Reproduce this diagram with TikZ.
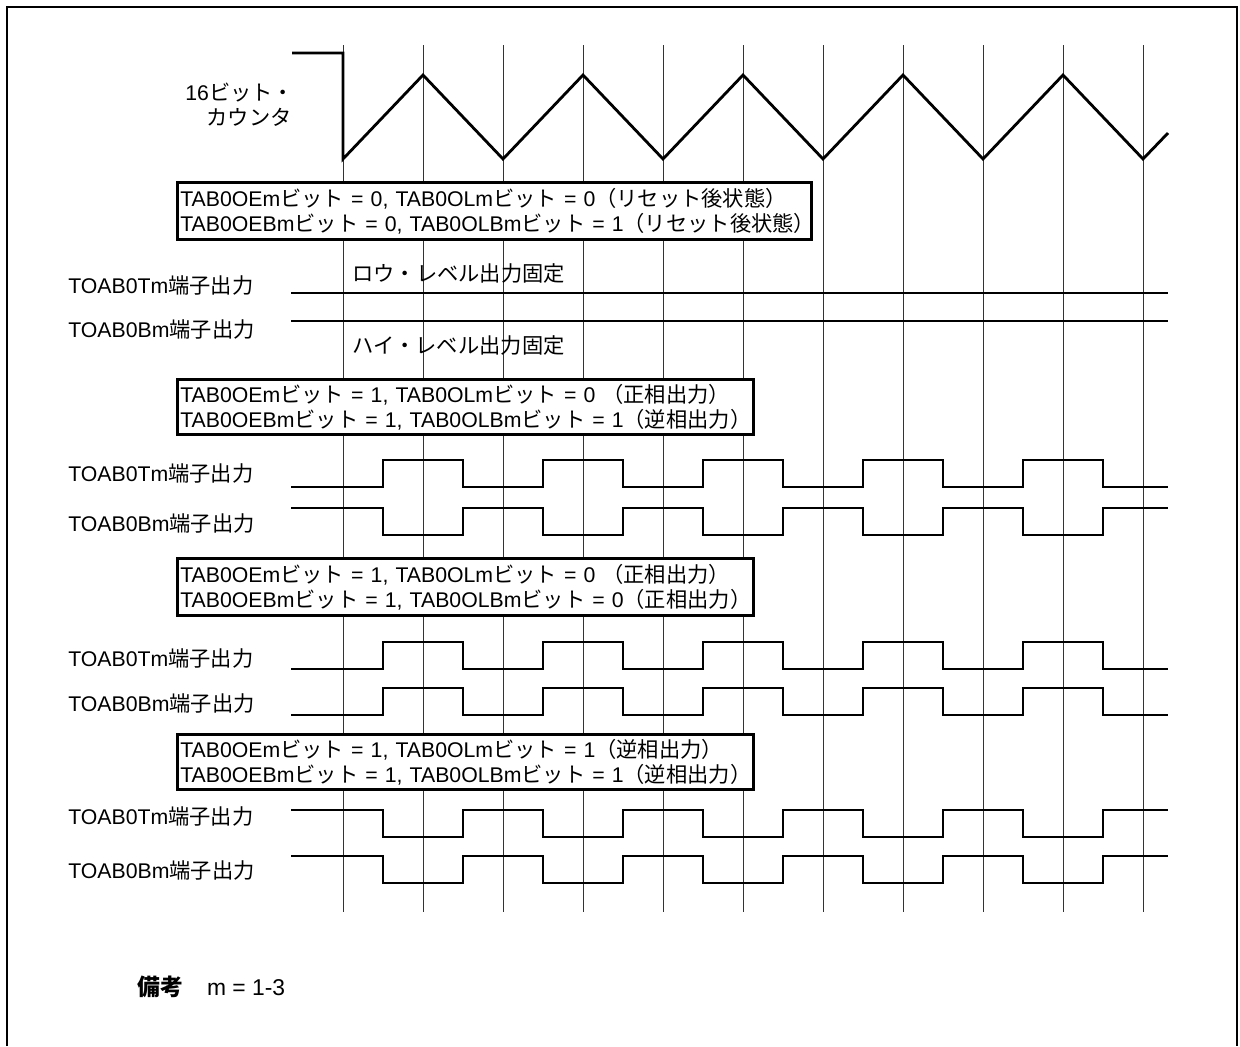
\documentclass[tikz,border=0pt]{standalone}
\usepackage{fontspec}
\setmainfont{Liberation Sans}
\newfontfamily\jpf{Noto Sans CJK JP}
\begin{document}
\begin{tikzpicture}[
  x=0.02cm, y=-0.02cm,
  line cap=butt,
  line join=miter,
  font=\fontsize{12.1pt}{14.2pt}\selectfont,
  sig/.style={line width=1.6pt},
  guide/.style={line width=0.5pt, black!80},
  cond/.style={draw, line width=1.5pt, fill=white, align=left, anchor=north west,
    inner xsep=0.06cm, inner ysep=0pt},
  lbl/.style={anchor=west, inner sep=0pt}
]
  \useasboundingbox (0,0) rectangle (1240,1046);

  % Rahmen
  \draw[line width=1.3pt] (7,1046)--(7,7)--(1237,7)--(1237,1046);

  % Hilfslinien
  \draw[guide] (343,45)--(343,912) (423,45)--(423,912) (503,45)--(503,912)
    (583,45)--(583,912) (663,45)--(663,912) (743,45)--(743,912)
    (823,45)--(823,912) (903,45)--(903,912) (983,45)--(983,912)
    (1063,45)--(1063,912) (1143,45)--(1143,912);

  % 16-Bit-Zaehler
  \node[anchor=base west, align=left, inner sep=0pt] (cnt) at (185,125)
    {16{\jpf ビット・}\\\hspace*{1em}{\jpf カウンタ}};
  \draw[sig] (292,53)--(343,53)--(343,159)--(423,75)--(503,159)--(583,75)
    --(663,159)--(743,75)--(823,159)--(903,75)--(983,159)--(1063,75)
    --(1143,159)--(1168,133);

  % Fall 1: Ausgang gesperrt
  \node[cond, text width=12.56cm, minimum height=1.14cm] (c1) at (176,181)
    {\mbox{TAB0OEm{\jpf ビット} = 0, TAB0OLm{\jpf ビット} = 0{\jpf （リセット後状態）}}\\
     \mbox{TAB0OEBm{\jpf ビット} = 0, TAB0OLBm{\jpf ビット} = 1{\jpf （リセット後状態）}}};
  \node[lbl] (t1) at (68,285) {TOAB0Tm{\jpf 端子出力}};
  \node[lbl] (b1) at (68,329) {TOAB0Bm{\jpf 端子出力}};
  \node[lbl] (lo) at (352,273) {\jpf ロウ・レベル出力固定};
  \node[lbl] (hi) at (352,345) {\jpf ハイ・レベル出力固定};
  \draw[sig] (291,293)--(1168,293);
  \draw[sig] (291,321)--(1168,321);

  % Fall 2: T normal, B invertiert
  \node[cond, text width=11.40cm, minimum height=1.1cm] (c2) at (176,378)
    {\mbox{TAB0OEm{\jpf ビット} = 1, TAB0OLm{\jpf ビット} = 0 {\jpf （正相出力）}}\\
     \mbox{TAB0OEBm{\jpf ビット} = 1, TAB0OLBm{\jpf ビット} = 1{\jpf （逆相出力）}}};
  \node[lbl] (t2) at (68,473) {TOAB0Tm{\jpf 端子出力}};
  \node[lbl] (b2) at (68,523) {TOAB0Bm{\jpf 端子出力}};
  \draw[sig] (291,487)--(383,487)--(383,460)--(463,460)--(463,487)--(543,487)
    --(543,460)--(623,460)--(623,487)--(703,487)--(703,460)--(783,460)
    --(783,487)--(863,487)--(863,460)--(943,460)--(943,487)--(1023,487)
    --(1023,460)--(1103,460)--(1103,487)--(1168,487);
  \draw[sig] (291,508)--(383,508)--(383,535)--(463,535)--(463,508)--(543,508)
    --(543,535)--(623,535)--(623,508)--(703,508)--(703,535)--(783,535)
    --(783,508)--(863,508)--(863,535)--(943,535)--(943,508)--(1023,508)
    --(1023,535)--(1103,535)--(1103,508)--(1168,508);

  % Fall 3: beide normal
  \node[cond, text width=11.40cm, minimum height=1.14cm] (c3) at (176,557)
    {\mbox{TAB0OEm{\jpf ビット} = 1, TAB0OLm{\jpf ビット} = 0 {\jpf （正相出力）}}\\
     \mbox{TAB0OEBm{\jpf ビット} = 1, TAB0OLBm{\jpf ビット} = 0{\jpf （正相出力）}}};
  \node[lbl] (t3) at (68,658) {TOAB0Tm{\jpf 端子出力}};
  \node[lbl] (b3) at (68,703) {TOAB0Bm{\jpf 端子出力}};
  \draw[sig] (291,669)--(383,669)--(383,642)--(463,642)--(463,669)--(543,669)
    --(543,642)--(623,642)--(623,669)--(703,669)--(703,642)--(783,642)
    --(783,669)--(863,669)--(863,642)--(943,642)--(943,669)--(1023,669)
    --(1023,642)--(1103,642)--(1103,669)--(1168,669);
  \draw[sig] (291,715)--(383,715)--(383,688)--(463,688)--(463,715)--(543,715)
    --(543,688)--(623,688)--(623,715)--(703,715)--(703,688)--(783,688)
    --(783,715)--(863,715)--(863,688)--(943,688)--(943,715)--(1023,715)
    --(1023,688)--(1103,688)--(1103,715)--(1168,715);

  % Fall 4: beide invertiert
  \node[cond, text width=11.40cm, minimum height=1.1cm] (c4) at (176,733)
    {\mbox{TAB0OEm{\jpf ビット} = 1, TAB0OLm{\jpf ビット} = 1{\jpf （逆相出力）}}\\
     \mbox{TAB0OEBm{\jpf ビット} = 1, TAB0OLBm{\jpf ビット} = 1{\jpf （逆相出力）}}};
  \node[lbl] (t4) at (68,816) {TOAB0Tm{\jpf 端子出力}};
  \node[lbl] (b4) at (68,870) {TOAB0Bm{\jpf 端子出力}};
  \draw[sig] (291,810)--(383,810)--(383,837)--(463,837)--(463,810)--(543,810)
    --(543,837)--(623,837)--(623,810)--(703,810)--(703,837)--(783,837)
    --(783,810)--(863,810)--(863,837)--(943,837)--(943,810)--(1023,810)
    --(1023,837)--(1103,837)--(1103,810)--(1168,810);
  \draw[sig] (291,856)--(383,856)--(383,883)--(463,883)--(463,856)--(543,856)
    --(543,883)--(623,883)--(623,856)--(703,856)--(703,883)--(783,883)
    --(783,856)--(863,856)--(863,883)--(943,883)--(943,856)--(1023,856)
    --(1023,883)--(1103,883)--(1103,856)--(1168,856);

  % Bemerkung
  \node[lbl, font=\fontsize{13pt}{15pt}\selectfont] (note) at (137,987)
    {{\jpf\bfseries 備考}\hspace{1.05em}m = 1-3};
\end{tikzpicture}
\end{document}
